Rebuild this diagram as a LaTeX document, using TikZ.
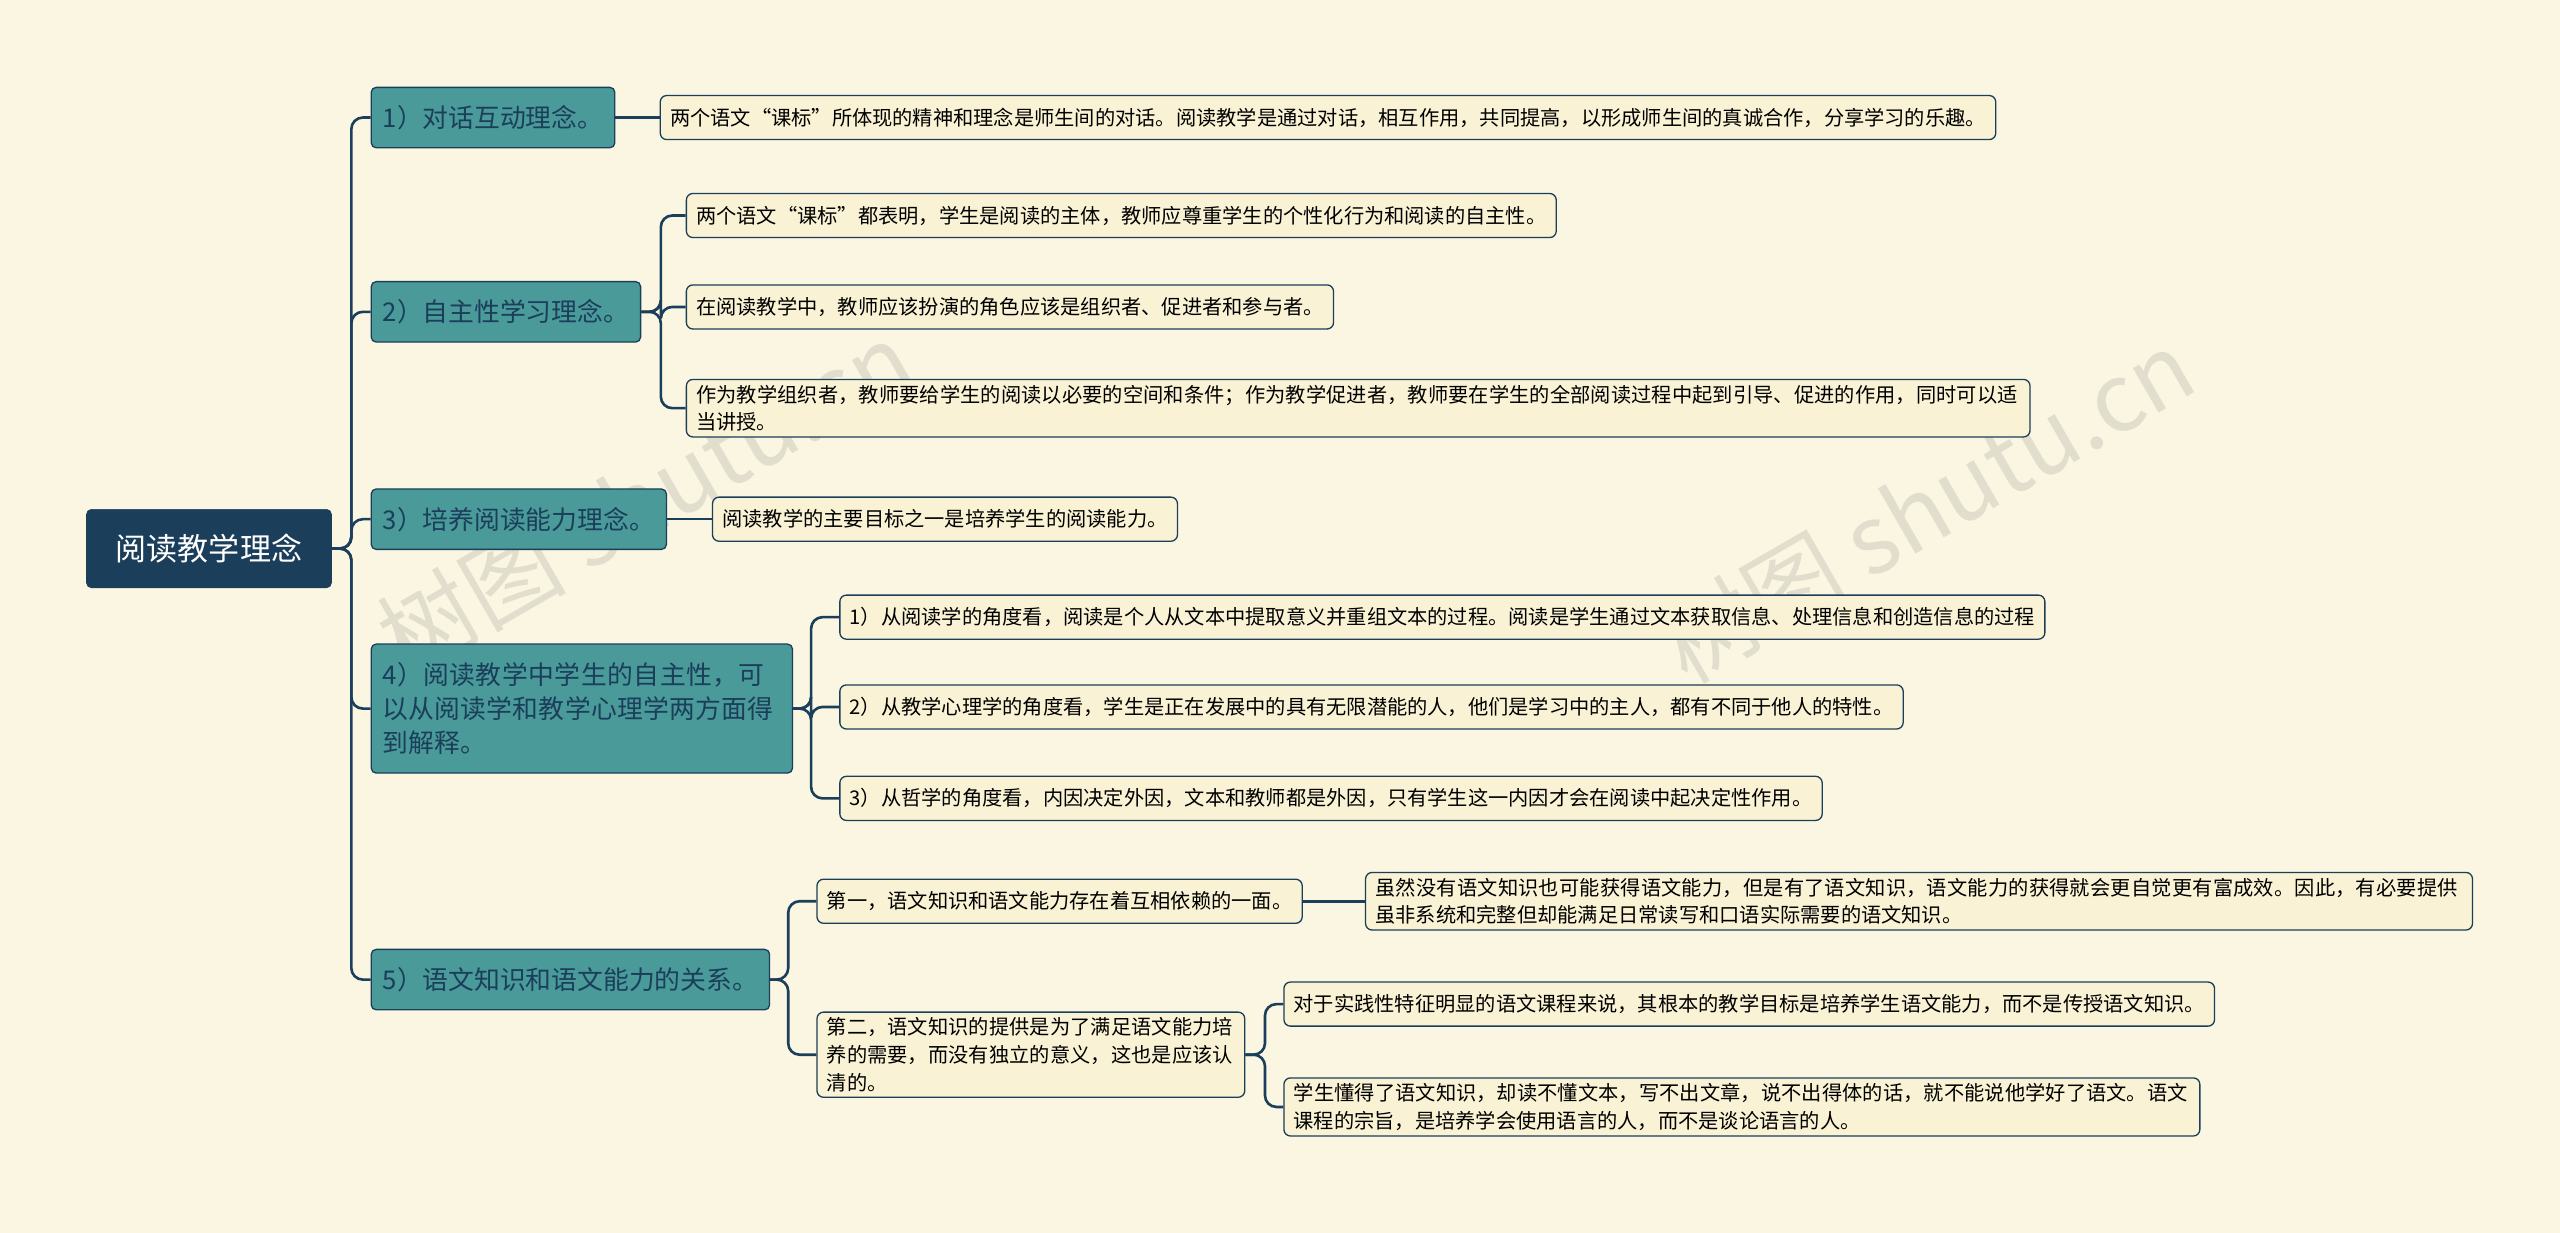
\documentclass[tikz,border=0pt]{standalone}
\usepackage{fontspec}
\setmainfont{Noto Sans CJK SC}
\XeTeXlinebreaklocale "zh"
\XeTeXlinebreakskip=0pt plus 1pt
\usetikzlibrary{calc}
\definecolor{bg}{HTML}{FBF6E2}
\definecolor{navy}{HTML}{1B3E5A}
\definecolor{teal1}{HTML}{4A9A9A}
\definecolor{leaf}{HTML}{F9F2D4}
\tikzset{
 rootn/.style={fill=navy,draw=navy,rounded corners=3,text=white,font=\fontsize{19}{23}\selectfont,minimum height=48,minimum width=150,inner xsep=8},
 lone/.style={fill=teal1,draw=navy,line width=0.8,rounded corners=3,text=navy,font=\fontsize{15.8}{21}\selectfont,minimum height=37,inner xsep=7,anchor=west,align=left},
 lf/.style={fill=leaf,draw=navy,line width=0.8,rounded corners=4,text=black,font=\fontsize{12.4}{17}\selectfont,minimum height=27,inner xsep=6,anchor=west,align=left},
 conn/.style={draw=navy,line width=1.6,rounded corners=7},
 wm/.style={text=gray,opacity=0.2,rotate=30,font=\fontsize{58}{60}\selectfont}
}
\begin{document}
\begin{tikzpicture}[x=1pt,y=-1pt]
\fill[bg] (0,0) rectangle (1568,755);
\useasboundingbox (0,0) rectangle (1568,755);
\node[wm] (w1) at (395,305) {树图 shutu.cn};
\node[wm] (w2) at (1180,310) {树图 shutu.cn};
\node[rootn] (r) at (128,336) {阅读教学理念};
\node[lone] (a) at (227,72) {1）对话互动理念。};
\node[lone] (b) at (227,191) {2）自主性学习理念。};
\node[lone] (c) at (227,318) {3）培养阅读能力理念。};
\node[lone,text width=244,minimum height=79] (d) at (227,434) {4）阅读教学中学生的自主性，可以从阅读学和教学心理学两方面得到解释。};
\node[lone] (e) at (227,600) {5）语文知识和语文能力的关系。};
\node[lf] (a1) at (404,72) {两个语文“课标”所体现的精神和理念是师生间的对话。阅读教学是通过对话，相互作用，共同提高，以形成师生间的真诚合作，分享学习的乐趣。};
\node[lf] (b1) at (420,132) {两个语文“课标”都表明，学生是阅读的主体，教师应尊重学生的个性化行为和阅读的自主性。};
\node[lf] (b2) at (420,188) {在阅读教学中，教师应该扮演的角色应该是组织者、促进者和参与者。};
\node[lf,text width=811] (b3) at (420,250) {作为教学组织者，教师要给学生的阅读以必要的空间和条件；作为教学促进者，教师要在学生的全部阅读过程中起到引导、促进的作用，同时可以适当讲授。};
\node[lf] (c1) at (436,318) {阅读教学的主要目标之一是培养学生的阅读能力。};
\node[lf] (d1) at (514,378) {1）从阅读学的角度看，阅读是个人从文本中提取意义并重组文本的过程。阅读是学生通过文本获取信息、处理信息和创造信息的过程};
\node[lf] (d2) at (514,433) {2）从教学心理学的角度看，学生是正在发展中的具有无限潜能的人，他们是学习中的主人，都有不同于他人的特性。};
\node[lf] (d3) at (514,489) {3）从哲学的角度看，内因决定外因，文本和教师都是外因，只有学生这一内因才会在阅读中起决定性作用。};
\node[lf] (e1) at (500,552) {第一，语文知识和语文能力存在着互相依赖的一面。};
\node[lf,text width=250] (e2) at (500,646) {第二，语文知识的提供是为了满足语文能力培养的需要，而没有独立的意义，这也是应该认清的。};
\node[lf,text width=666] (e11) at (836,552) {虽然没有语文知识也可能获得语文能力，但是有了语文知识，语文能力的获得就会更自觉更有富成效。因此，有必要提供虽非系统和完整但却能满足日常读写和口语实际需要的语文知识。};
\node[lf] (e21) at (786,615) {对于实践性特征明显的语文课程来说，其根本的教学目标是培养学生语文能力，而不是传授语文知识。};
\node[lf,text width=549] (e22) at (786,678) {学生懂得了语文知识，却读不懂文本，写不出文章，说不出得体的话，就不能说他学好了语文。语文课程的宗旨，是培养学会使用语言的人，而不是谈论语言的人。};
\foreach \c in {a,b,c,d,e} \draw[conn] (r.east) -- ++(12,0) |- (\c.west);
\draw[conn] (a.east) -- (a1.west);
\foreach \c in {b1,b2,b3} \draw[conn] (b.east) -- ++(12,0) |- (\c.west);
\draw[conn] (c.east) -- (c1.west);
\foreach \c in {d1,d2,d3} \draw[conn] (d.east) -- ++(11,0) |- (\c.west);
\foreach \c in {e1,e2} \draw[conn] (e.east) -- ++(11,0) |- (\c.west);
\draw[conn] (e1.east) -- (e11.west);
\foreach \c in {e21,e22} \draw[conn] (e2.east) -- ++(12,0) |- (\c.west);
\end{tikzpicture}
\end{document}
